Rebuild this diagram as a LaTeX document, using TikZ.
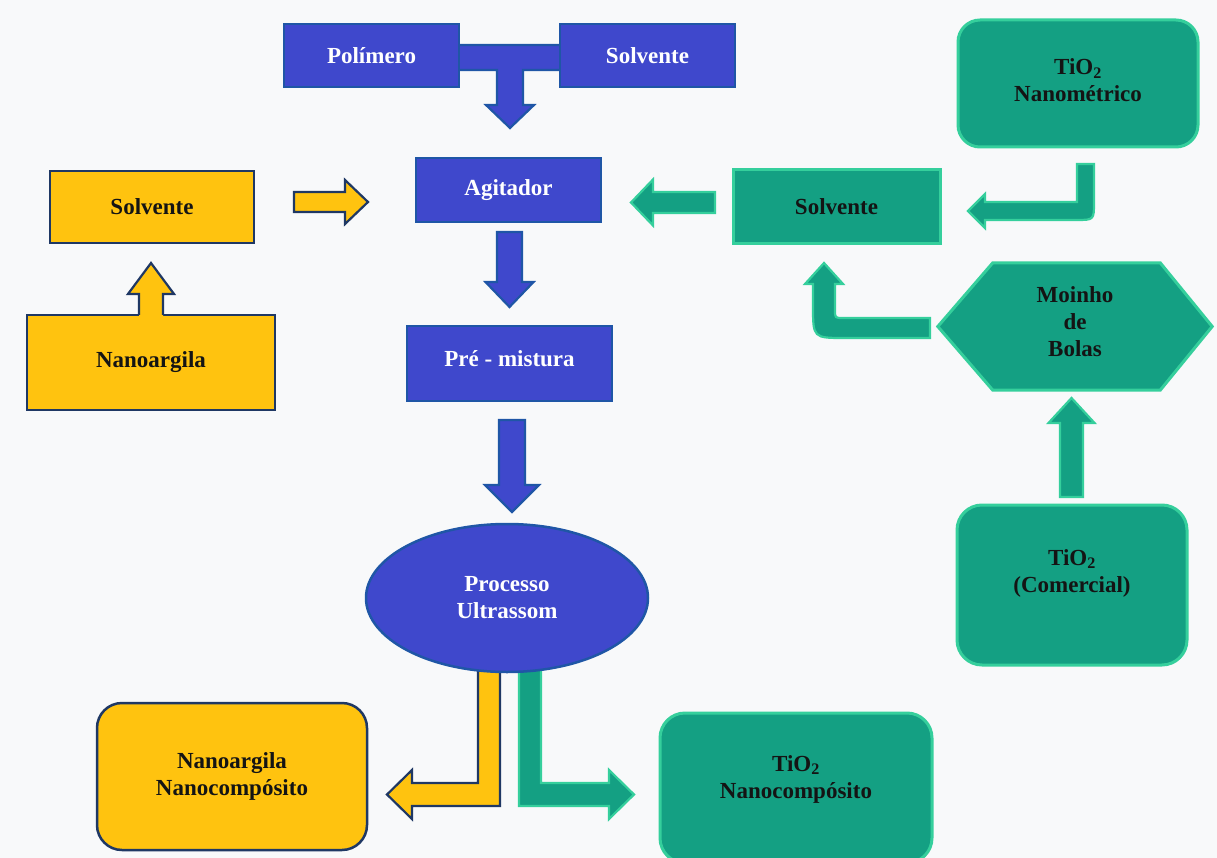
\documentclass[tikz,border=0pt]{standalone}
\usepackage{fontspec}
\setmainfont{Liberation Serif}
\usetikzlibrary{calc,shapes.geometric}
\definecolor{blueF}{HTML}{3F48CC}
\definecolor{blueD}{HTML}{1F56A6}
\definecolor{yelF}{HTML}{FFC30F}
\definecolor{yelD}{HTML}{1F3864}
\definecolor{grnF}{HTML}{14A083}
\definecolor{grnL}{HTML}{35CF9C}
\definecolor{txtD}{HTML}{141414}
\definecolor{bgc}{HTML}{F8F9FA}
% vertical block arrow: style, x, y start, y tip, half stem, half head, head length (signed)
\newcommand{\blkV}[7]{\draw[#1] ({#2-#5},#3) -- ({#2+#5},#3) -- ({#2+#5},{#4-#7}) -- ({#2+#6},{#4-#7}) -- (#2,#4) -- ({#2-#6},{#4-#7}) -- ({#2-#5},{#4-#7}) -- cycle;}
% horizontal block arrow: style, y, x start, x tip, half stem, half head, head length (signed)
\newcommand{\blkH}[7]{\draw[#1] (#3,{#2-#5}) -- (#3,{#2+#5}) -- ({#4-#7},{#2+#5}) -- ({#4-#7},{#2+#6}) -- (#4,#2) -- ({#4-#7},{#2-#6}) -- ({#4-#7},{#2-#5}) -- cycle;}
\begin{document}
\begin{tikzpicture}[x=1pt,y=-1pt,
  lbl/.style={font=\fontsize{23}{27}\selectfont\bfseries, align=center, inner sep=0pt},
  bbox/.style={lbl, draw=blueD, fill=blueF, line width=2.5pt, text=white},
  ybox/.style={lbl, draw=yelD, fill=yelF, line width=2.5pt, text=txtD},
  gbox/.style={lbl, draw=grnL, fill=grnF, line width=3pt, text=txtD},
  gtext/.style={lbl, text=txtD},
  barrow/.style={draw=blueD, fill=blueF, line width=2.2pt, line join=miter},
  yarrow/.style={draw=yelD, fill=yelF, line width=2.2pt, line join=miter},
  garrow/.style={draw=grnL, fill=grnF, line width=2.2pt, line join=miter}]
\fill[bgc] (0,0) rectangle (1217,858);
\useasboundingbox (0,0) rectangle (1217,858);

% connectors lying behind nodes
\draw[barrow] (455,45) -- (565,45) -- (565,70) -- (523,70) -- (523,105) -- (534,105) -- (510,128) -- (486,105) -- (497,105) -- (497,70) -- (455,70) -- cycle;
\draw[yarrow] (478,650) -- (500,650) -- (500,806) -- (412,806) -- (412,819) -- (387,794.5) -- (412,770) -- (412,783) -- (478,783) -- cycle;
\draw[garrow] (519,650) -- (541,650) -- (541,783) -- (609,783) -- (609,770) -- (634,794.5) -- (609,819) -- (609,806) -- (519,806) -- cycle;

% nodes
\node[bbox, minimum width=175pt, minimum height=63pt] (pol) at (371.5,55.5) {Polímero};
\node[bbox, minimum width=175pt, minimum height=63pt] (solT) at (647.5,55.5) {Solvente};
\node[bbox, minimum width=185pt, minimum height=64pt] (agit) at (508.5,190) {Agitador};
\node[bbox, minimum width=205pt, minimum height=75pt] (pre) at (509.5,363.5) {};
\node[lbl, text=white] (preT) at (509.5,359) {Pré - mistura};
\node[bbox, ellipse, minimum width=282pt, minimum height=148pt] (ultra) at (507,598) {Processo\\Ultrassom};

\node[ybox, minimum width=204pt, minimum height=72pt] (solY) at (152,207) {Solvente};
\node[ybox, minimum width=248pt, minimum height=95pt] (nanoY) at (151,362.5) {Nanoargila};
\node[ybox, rounded corners=25pt, minimum width=270pt, minimum height=147pt] (nnc) at (232,776.5) {Nanoargila\\Nanocompósito};

\node[gbox, rounded corners=22pt, minimum width=240pt, minimum height=127pt] (tioN) at (1078,83.5) {};
\node[gtext] (tioNt) at (1078,80) {TiO\textsubscript{2}\\Nanométrico};
\node[gbox, minimum width=207pt, minimum height=74pt] (solG) at (836.5,207) {Solvente};
\node[minimum width=274pt, minimum height=127pt, inner sep=0pt] (moinho) at (1075,326.5) {};
\draw[gbox] (moinho.west) -- ($(moinho.north west)+(55,0)$) -- ($(moinho.north east)+(-52,0)$) -- (moinho.east) -- ($(moinho.south east)+(-52,0)$) -- ($(moinho.south west)+(55,0)$) -- cycle;
\node[gtext] (moinhoT) at (1075,322) {Moinho\\de\\Bolas};
\node[gbox, rounded corners=25pt, minimum width=230pt, minimum height=160pt] (tioC) at (1072,585) {};
\node[gtext] (tioCt) at (1072,573) {TiO\textsubscript{2}\\(Comercial)};
\node[gbox, rounded corners=25pt, minimum width=272pt, minimum height=150pt] (tnc) at (796,788) {};
\node[gtext] (tncT) at (796,779) {TiO\textsubscript{2}\\Nanocompósito};

% connectors in front
\blkV{barrow}{509.5}{232}{307}{12.5}{24}{25}
\blkV{barrow}{512}{420}{512}{13}{27}{27}
\blkH{yarrow}{202}{294}{368}{10}{22}{23}
\fill[yelF] (139,320) -- (139,294) -- (128,294) -- (151,263) -- (174,294) -- (163,294) -- (163,320) -- cycle;
\draw[yelD, line width=2.2pt, line join=miter] (139,315) -- (139,294) -- (128,294) -- (151,263) -- (174,294) -- (163,294) -- (163,315);
\blkH{garrow}{202.5}{715}{631}{10.5}{23}{-22}
\blkV{garrow}{1071.5}{497}{398}{11.5}{23}{-25}
\draw[garrow] (1077,164) -- (1094,164) -- (1094,202) .. controls (1094,220) .. (1076,220) -- (985,220) -- (985,228) -- (968,211) -- (985,194) -- (985,202) -- (1077,202) -- cycle;
\draw[garrow] (930,318) -- (930,338) -- (845,338) .. controls (813,338) .. (813,306) -- (813,284) -- (805,284) -- (824,263) -- (843,284) -- (835,284) -- (835,310) .. controls (835,318) .. (843,318) -- cycle;
\end{tikzpicture}
\end{document}
